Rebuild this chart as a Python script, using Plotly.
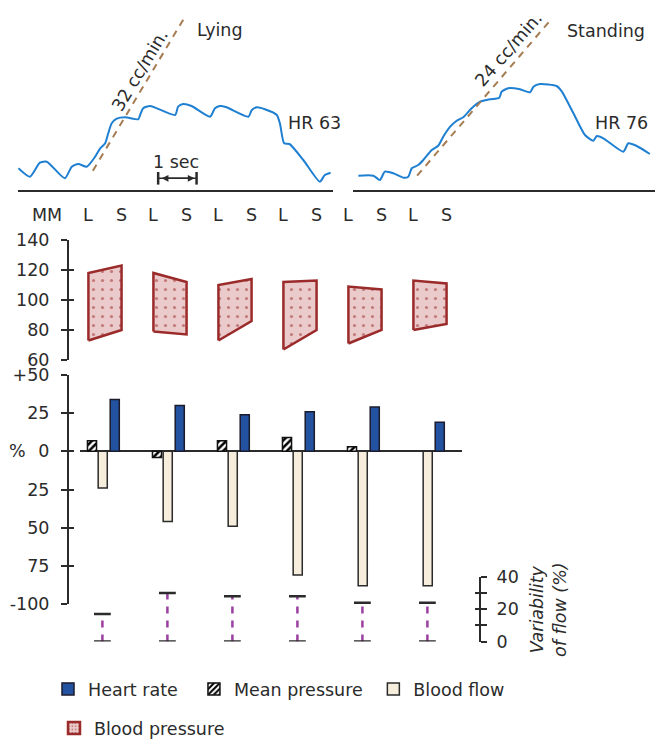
import plotly.graph_objects as go

W, H = 663, 740
OFF = 8  # page body margin of the html page


def px(x):
    return (x - OFF) / W


def py(y):
    return 1 - (y - OFF) / H


FONT = "DejaVu Sans"
FS = 17.5
INK = "#2b2b2b"

# ---------------- data ----------------
groups = [1, 2, 3, 4, 5, 6]
side_labels = ["L", "S"]

# blood pressure (mm Hg) at L (lying) and S (standing) edges
bp_lying_low = [73, 79, 73, 67, 71, 80]
bp_lying_high = [118, 118, 110, 112, 109, 113]
bp_standing_low = [80, 77, 86, 80, 80, 84]
bp_standing_high = [123, 112, 114, 113, 107, 111]

# percentage change on standing
heart_rate = [34, 30, 24, 26, 29, 19]
mean_pressure = [7, -4, 7, 9, 3, None]
blood_flow = [-24, -46, -49, -81, -88, -88]

# variability of flow (%)
variability = [17, 30, 28, 28, 24, 24]

# flow traces (time in s, amplitude in arbitrary units)
lying_t = [0.01, 0.31, 0.57, 0.75, 1.22, 1.40, 1.57, 1.79, 2.01, 2.14, 2.27, 2.35,
           2.44, 2.57, 2.79, 3.13, 3.18, 3.26, 3.44, 4.09, 4.17, 4.30, 4.52, 5.00,
           5.13, 5.26, 5.43, 6.00, 6.09, 6.22, 6.43, 6.74, 6.82, 6.93, 7.07, 7.43,
           7.86, 7.99, 8.14]
lying_amp = [2.17, 1.33, 2.73, 2.83, 1.17, 2.33, 2.60, 2.33, 3.33, 4.17, 4.67, 5.67,
             6.67, 7.13, 7.27, 7.07, 7.50, 8.17, 8.40, 7.50, 8.33, 8.60, 8.40, 7.33,
             8.17, 8.40, 8.27, 7.33, 8.00, 8.27, 8.07, 7.50, 6.67, 4.67, 4.60, 3.00,
             0.83, 1.50, 1.73]
standing_t = [0.14, 0.53, 0.70, 0.83, 1.05, 1.31, 1.44, 1.53, 1.70, 1.83, 2.05, 2.22,
              2.35, 2.53, 2.70, 2.87, 3.09, 3.31, 3.57, 3.81, 3.87, 4.04, 4.35, 4.61,
              4.70, 4.87, 5.30, 5.44, 5.74, 6.04, 6.26, 6.35, 6.52, 7.04, 7.17, 7.39,
              7.73]
standing_amp = [1.43, 1.43, 1.00, 1.83, 1.67, 1.23, 1.33, 2.17, 2.50, 3.00, 4.00, 4.43,
                5.33, 6.33, 6.93, 7.27, 8.17, 8.83, 9.07, 9.23, 9.83, 10.17, 10.07, 9.77,
                10.33, 10.60, 10.40, 9.83, 7.67, 5.50, 4.93, 5.40, 5.17, 3.83, 4.67, 4.40,
                3.60]
# inflow slopes
lying_slope_t = [1.95, 4.375]
lying_slope_amp = [1.93, 17.5]
standing_slope_t = [1.67, 5.13]
standing_slope_amp = [1.43, 16.93]
# 1 second time scale
scale_bar_t = [3.65, 4.65]
scale_bar_amp = [1.17, 1.17]

bp_ticks = [60, 80, 100, 120, 140]
pct_ticks = [50, 25, 0, -25, -50, -75, -100]
pct_ticktext = ["+50", "25", "0", "25", "50", "75", "-100"]
var_ticks = [0, 10, 20, 30, 40]
var_ticktext = ["0", "", "20", "", "40"]

# ---------------- styles ----------------
BLUE_TRACE = "#1f7fd1"
SLOPE = "#a67c52"
HR_BLUE = "#2352a0"
FLOW_CREAM = "#f6eddc"
BP_RED = "#9b2a2a"
BP_FILL = "#eacaca"
PURPLE = "#9b3fa3"

HALF = 0.255      # half width of pressure block (group units)
BARW = 0.14
VAR_SHIFT = -0.04
NB = "\u00a0"

fig = go.Figure()

# --- flow traces ---
fig.add_trace(go.Scatter(x=lying_t, y=lying_amp, mode="lines", xaxis="x", yaxis="y",
                         line=dict(color=BLUE_TRACE, width=2, shape="spline", smoothing=0.6),
                         showlegend=False, hoverinfo="skip"))
fig.add_trace(go.Scatter(x=lying_slope_t, y=lying_slope_amp, mode="lines", xaxis="x", yaxis="y",
                         line=dict(color=SLOPE, width=2, dash="7px,6px"),
                         showlegend=False, hoverinfo="skip"))
fig.add_trace(go.Scatter(x=scale_bar_t, y=scale_bar_amp, mode="lines+markers", xaxis="x", yaxis="y",
                         line=dict(color=INK, width=1.5),
                         marker=dict(symbol="line-ns", size=9, line=dict(color=INK, width=2.5)),
                         showlegend=False, hoverinfo="skip"))
fig.add_trace(go.Scatter(x=standing_t, y=standing_amp, mode="lines", xaxis="x2", yaxis="y2",
                         line=dict(color=BLUE_TRACE, width=2, shape="spline", smoothing=0.6),
                         showlegend=False, hoverinfo="skip"))
fig.add_trace(go.Scatter(x=standing_slope_t, y=standing_slope_amp, mode="lines", xaxis="x2", yaxis="y2",
                         line=dict(color=SLOPE, width=2, dash="7px,6px"),
                         showlegend=False, hoverinfo="skip"))

# --- bars (percent change) ---
fig.add_trace(go.Bar(x=groups, y=heart_rate, xaxis="x3", yaxis="y4", name="Heart rate" + NB * 2,
                     width=BARW, offset=0.08,
                     marker=dict(color=HR_BLUE, line=dict(color="#1b1b2b", width=1.5)),
                     legend="legend", hoverinfo="skip"))
fig.add_trace(go.Bar(x=groups, y=mean_pressure, xaxis="x3", yaxis="y4", name="Mean pressure" + NB,
                     width=BARW, offset=-0.27,
                     marker=dict(color="white", line=dict(color="#111111", width=1.5),
                                 pattern=dict(shape="/", fgcolor="#000000", bgcolor="white",
                                              fgopacity=1, size=5, solidity=0.5)),
                     legend="legend", hoverinfo="skip"))
fig.add_trace(go.Bar(x=groups, y=blood_flow, xaxis="x3", yaxis="y4", name="Blood flow",
                     width=BARW, offset=-0.105,
                     marker=dict(color=FLOW_CREAM, line=dict(color=INK, width=1.5)),
                     legend="legend", hoverinfo="skip"))

# --- blood pressure blocks ---
bx, by = [], []
for g, ll, lh, sl, sh in zip(groups, bp_lying_low, bp_lying_high, bp_standing_low, bp_standing_high):
    bx += [g - HALF, g + HALF, g + HALF, g - HALF, g - HALF, None]
    by += [ll, sl, sh, lh, ll, None]
bp_pattern = dict(shape=".", fgcolor=BP_RED, bgcolor=BP_FILL, size=9, solidity=0.1)
fig.add_trace(go.Scatter(x=bx, y=by, xaxis="x3", yaxis="y3", mode="lines", fill="toself",
                         showlegend=False, fillcolor=BP_FILL, fillpattern=bp_pattern,
                         line=dict(color=BP_RED, width=2.5), hoverinfo="skip"))
# legend entry for blood pressure
fig.add_trace(go.Bar(x=[None], y=[None], xaxis="x3", yaxis="y3", name="Blood pressure",
                     legend="legend2",
                     marker=dict(color=BP_FILL, line=dict(color=BP_RED, width=2.5),
                                 pattern=dict(shape=".", fgcolor=BP_RED, bgcolor=BP_FILL,
                                              size=4, solidity=0.25)),
                     hoverinfo="skip"))

# --- variability of flow ---
vx, vy = [], []
for g, v in zip(groups, variability):
    vx += [g + VAR_SHIFT, g + VAR_SHIFT, None]
    vy += [0, v, None]
fig.add_trace(go.Scatter(x=vx, y=vy, xaxis="x3", yaxis="y5", mode="lines",
                         line=dict(color=PURPLE, width=2.5, dash="7px,7px"),
                         showlegend=False, hoverinfo="skip"))
cap_x = [g + VAR_SHIFT for g in groups] * 2
cap_y = variability + [0] * len(groups)
fig.add_trace(go.Scatter(x=cap_x, y=cap_y, xaxis="x3", yaxis="y5", mode="markers",
                         marker=dict(symbol="line-ew", size=12, line=dict(color=INK, width=2.5)),
                         showlegend=False, hoverinfo="skip"))

# dummy traces so that the crossing-tick overlay axes render
for ya in ["y6", "y7", "y8"]:
    fig.add_trace(go.Scatter(x=[None], y=[None], xaxis="x3", yaxis=ya, showlegend=False,
                             hoverinfo="skip"))

# ---------------- axes ----------------
blank = dict(showgrid=False, zeroline=False, showticklabels=False, ticks="")
y_top = [py(190), 1]
amp_top = (190 - OFF) / 10
fig.update_layout(
    xaxis=dict(domain=[px(18), px(333)], range=[0, 315 / 38.4], anchor="y",
               showline=True, linecolor=INK, linewidth=2, **blank),
    yaxis=dict(domain=y_top, range=[0, amp_top], anchor="x", visible=False),
    xaxis2=dict(domain=[px(353), px(663)], range=[0, 310 / 38.4], anchor="y2",
                showline=True, linecolor=INK, linewidth=2, **blank),
    yaxis2=dict(domain=y_top, range=[0, amp_top], anchor="x2", visible=False),
    xaxis3=dict(domain=[px(80), px(462)], range=[(80 - 40) / 65, (462 - 40) / 65],
                anchor="y3", visible=False),
)

common_y = dict(showgrid=False, showline=True, linecolor=INK, linewidth=2,
                ticks="outside", ticklen=6, tickwidth=2, tickcolor=INK,
                tickfont=dict(family=FONT, size=FS, color=INK))
fig.update_layout(
    yaxis3=dict(domain=[py(360), py(240)], range=[60, 140], anchor="free",
                position=px(68), tickvals=bp_ticks, zeroline=False,
                ticklabelstandoff=8, **common_y),
    yaxis4=dict(domain=[py(604), py(375)], range=[-100, 50], anchor="free",
                position=px(68), tickvals=pct_ticks, ticktext=pct_ticktext,
                zeroline=True, zerolinecolor=INK, zerolinewidth=2,
                ticklabelstandoff=8, **common_y),
    yaxis5=dict(domain=[py(641.5), py(577)], range=[0, 40], anchor="free",
                position=px(480), side="right", tickvals=var_ticks, ticktext=var_ticktext,
                zeroline=False, ticklabelstandoff=6, **common_y),
)
inner = dict(showgrid=False, zeroline=False, showline=False, showticklabels=False,
             ticks="inside", ticklen=5, tickwidth=2, tickcolor=INK, anchor="free")
fig.update_layout(
    yaxis6=dict(overlaying="y3", domain=[py(360), py(240)], range=[60, 140],
                position=px(68), tickvals=bp_ticks, **inner),
    yaxis7=dict(overlaying="y4", domain=[py(604), py(375)], range=[-100, 50],
                position=px(68), tickvals=pct_ticks, **inner),
    yaxis8=dict(overlaying="y5", domain=[py(641.5), py(577)], range=[0, 40],
                position=px(480), side="right", tickvals=var_ticks, **inner),
)

# ---------------- annotations ----------------
ann = []


def txt(x, y, s, xref="paper", yref="paper", angle=0, size=FS):
    ann.append(dict(x=x, y=y, xref=xref, yref=yref, text=s, showarrow=False,
                    xanchor="center", yanchor="middle",
                    textangle=angle, font=dict(family=FONT, size=size, color=INK)))


txt(5.26, 16.0, "Lying", "x", "y")
txt(7.73, 6.7, "HR 63", "x", "y")
txt(3.18, 12.0, "32 cc/min.", "x", "y", angle=-59)
txt(4.11, 2.8, "1 sec", "x", "y")
txt(6.59, 15.93, "Standing", "x2", "y2")
txt(6.99, 6.73, "HR 76", "x2", "y2")
txt(4.06, 14.07, "24 cc/min.", "x2", "y2", angle=-49)

# arrow heads of the 1 sec scale
ann.append(dict(x=scale_bar_t[1], y=scale_bar_amp[1], ax=scale_bar_t[0], ay=scale_bar_amp[0],
                xref="x", yref="y", axref="x", ayref="y", text="", showarrow=True,
                arrowhead=2, arrowside="end+start", arrowsize=0.9, arrowwidth=1.5,
                arrowcolor=INK, standoff=2, startstandoff=2))

txt(px(47), py(215), "MM")
for g in groups:
    txt(g - HALF, py(215), side_labels[0], xref="x3")
    txt(g + HALF, py(215), side_labels[1], xref="x3")
txt(px(17), py(451), "%")
txt(px(548), py(610), "<i>Variability<br>of flow (%)</i>", angle=-90)

fig.update_layout(annotations=ann)

fig.update_layout(
    width=W, height=H, autosize=False,
    margin=dict(l=0, r=0, t=0, b=0, pad=0, autoexpand=False),
    paper_bgcolor="white", plot_bgcolor="rgba(0,0,0,0)",
    font=dict(family=FONT, size=FS, color=INK),
    barmode="overlay", hovermode=False,
    legend=dict(orientation="h", x=px(48), y=py(689), xanchor="left", yanchor="middle",
                font=dict(family=FONT, size=FS, color=INK), bgcolor="rgba(0,0,0,0)",
                traceorder="normal", itemclick=False, itemdoubleclick=False),
    legend2=dict(orientation="h", x=px(54), y=py(728), xanchor="left", yanchor="middle",
                 font=dict(family=FONT, size=FS, color=INK), bgcolor="rgba(0,0,0,0)",
                 itemclick=False, itemdoubleclick=False),
)

fig.write_html("out.html")
